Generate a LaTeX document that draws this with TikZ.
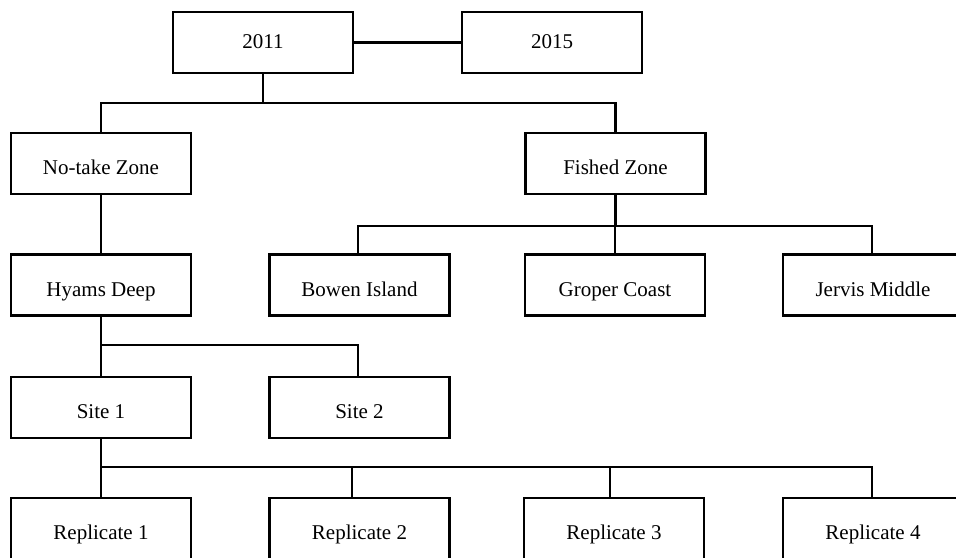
\documentclass[tikz,border=0pt]{standalone}
\usepackage{fontspec}
\setmainfont{Liberation Serif}
\tikzset{
  box/.style={shape=rectangle,draw=black,line width=2.8pt,minimum width=180pt,minimum height=61pt,inner sep=0pt,text height=23pt,text depth=1pt,font=\fontsize{21}{25}\selectfont},
  topbox/.style={box,text height=14pt,text depth=3pt},
  link/.style={line width=2.8pt}
}
\begin{document}
\begin{tikzpicture}[x=1pt,y=-1pt]
  \useasboundingbox (0,0) rectangle (956,557);
  \clip (0,0) rectangle (956,557);

  \node[topbox] (Y11) at (263,42.5) {2011};
  \node[topbox] (Y15) at (552,42.5) {2015};
  \node[box] (NT) at (101,163.5) {No-take Zone};
  \node[box] (FZ) at (615.5,163.5) {Fished Zone};
  \node[box] (HD) at (101,285) {Hyams Deep};
  \node[box] (BI) at (359.5,285) {Bowen Island};
  \node[box] (GC) at (615,285) {Groper Coast};
  \node[box] (JM) at (873,285) {Jervis Middle};
  \node[box] (S1) at (101,407.5) {Site 1};
  \node[box] (S2) at (359.5,407.5) {Site 2};
  \node[box] (R1) at (101,528.5) {Replicate 1};
  \node[box] (R2) at (359.5,528.5) {Replicate 2};
  \node[box] (R3) at (614,528.5) {Replicate 3};
  \node[box] (R4) at (873,528.5) {Replicate 4};

  \coordinate (B1) at (263,103);
  \coordinate (B2) at (615.5,226);
  \coordinate (B3) at (101,345);
  \coordinate (B4) at (101,467);

  \path [link] (Y11) edge node {} (Y15);
  \draw [link] (Y11.south) -- (B1);
  \draw [link] (NT.north) |- (B1);
  \draw [link] (FZ.north) |- (B1);

  \draw [link] (NT.south) -- (HD.north);
  \draw [link] (FZ.south) -- (B2);
  \draw [link] ([xshift=-1.5pt]BI.north) |- (B2);
  \draw [link] (GC.north) |- (B2);
  \draw [link] ([xshift=-1pt]JM.north) |- (B2);

  \draw [link] (HD.south) -- (S1.north);
  \draw [link] ([xshift=-1.5pt]S2.north) |- (B3);

  \draw [link] (S1.south) -- (R1.north);
  \draw [link] ([xshift=-7.5pt]R2.north) |- (B4);
  \draw [link] ([xshift=-4pt]R3.north) |- (B4);
  \draw [link] ([xshift=-1pt]R4.north) |- (B4);
\end{tikzpicture}
\end{document}
